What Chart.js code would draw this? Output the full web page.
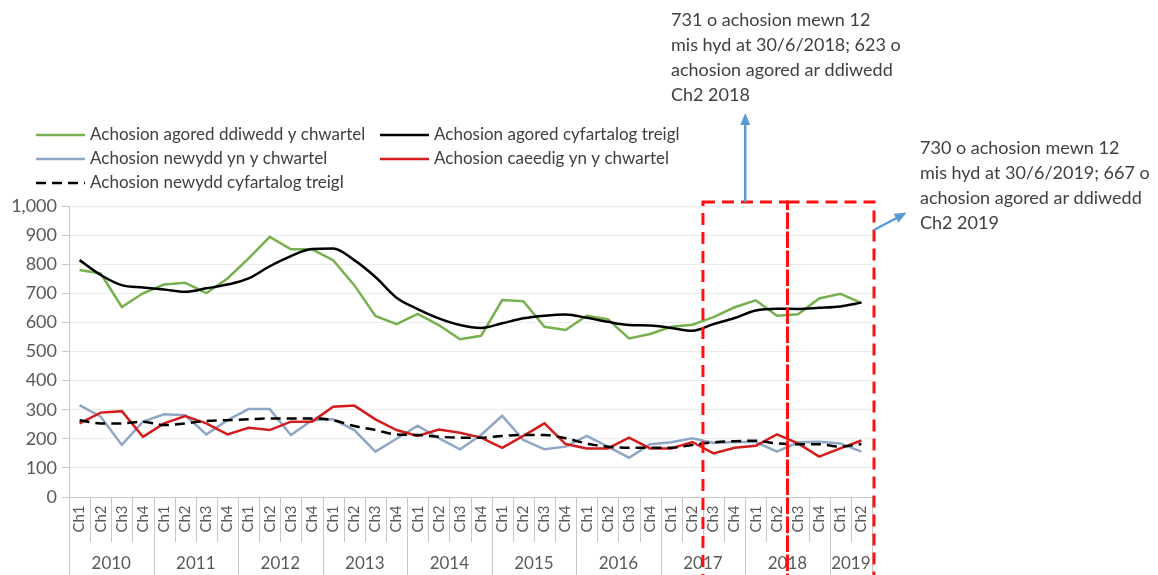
<!DOCTYPE html>
<html>
<head>
<meta charset="utf-8">
<script src="https://cdn.jsdelivr.net/npm/chart.js@4"></script>
<style>
  body { margin: 0; background: #fff; }
  #wrap { width: 1158px; height: 575px; }
</style>
</head>
<body>
<div id="wrap"><canvas id="chart" width="1158" height="575"></canvas></div>
<script>
// Data
const years = ["2010", "2011", "2012", "2013", "2014", "2015", "2016", "2017", "2018", "2019"];
const quartersPerYear = [4, 4, 4, 4, 4, 4, 4, 4, 4, 2];
const categories = quartersPerYear.flatMap((n) =>
  ["Ch1", "Ch2", "Ch3", "Ch4"].slice(0, n)
);

const openEnd = [
  780, 768, 653, 700, 730, 736, 701, 751, 820, 894, 851, 851, 814, 728, 622, 594,
  629, 591, 542, 554, 677, 673, 585, 574, 623, 611, 545, 560, 585, 592,
  618, 652, 676, 623, 628, 682, 698, 667,
];
const openAvg = [
  814, 763, 728, 720, 713, 705, 717, 730, 751, 793, 828, 852, 854, 814, 756, 685,
  646, 614, 591, 581, 597, 614, 623, 627, 616, 602, 591, 589, 581, 571,
  594, 615, 641, 647, 646, 650, 655, 668,
];
const newCases = [
  316, 276, 179, 259, 284, 281, 215, 264, 302, 302, 213, 264, 267, 230, 156, 200,
  245, 202, 164, 213, 279, 196, 164, 173, 210, 173, 135, 181, 188, 202,
  186, 189, 189, 156, 188, 190, 184, 156,
];
const closedCases = [
  253, 290, 295, 207, 253, 278, 253, 215, 238, 230, 259, 259, 310, 314, 267, 230,
  210, 232, 221, 204, 169, 210, 253, 182, 167, 167, 204, 167, 167, 189,
  150, 169, 176, 215, 184, 139, 167, 194,
];
const newAvg = [
  264, 253, 253, 259, 247, 253, 261, 264, 267, 270, 270, 270, 264, 244, 230, 215,
  213, 207, 204, 204, 210, 213, 213, 202, 184, 173, 169, 169, 169, 179,
  188, 192, 193, 184, 181, 181, 173, 182,
];

const yTickLabels = ["0", "100", "200", "300", "400", "500", "600", "700", "800", "900", "1,000"];

const seriesNames = [
  "Achosion agored ddiwedd y chwartel",
  "Achosion agored cyfartalog treigl",
  "Achosion newydd yn y chwartel",
  "Achosion caeedig yn y chwartel",
  "Achosion newydd cyfartalog treigl",
];

const note2018 = [
  "731 o achosion mewn 12",
  "mis hyd at 30/6/2018; 623 o",
  "achosion agored ar ddiwedd",
  "Ch2 2018",
];
const note2019 = [
  "730 o achosion mewn 12",
  "mis hyd at 30/6/2019; 667 o",
  "achosion agored ar ddiwedd",
  "Ch2 2019",
];

const FONT = "Lato, 'Open Sans', sans-serif";
const TEXT = "#404040";

// legend drawn by hand: two columns, like the Excel one
const legendLayout = [
  { ds: 0, x: 36, y: 135 },
  { ds: 1, x: 380, y: 135 },
  { ds: 2, x: 36, y: 159 },
  { ds: 3, x: 380, y: 159 },
  { ds: 4, x: 36, y: 183 },
];

const extrasPlugin = {
  id: "extras",
  afterDraw(chart) {
    const { ctx, chartArea, scales } = chart;
    const xs = scales.x;
    const ys = scales.y;
    const n = categories.length;
    const step = (chartArea.right - chartArea.left) / n;
    const edge = (i) => chartArea.left + i * step;

    ctx.save();

    // category ticks and rotated quarter labels
    ctx.strokeStyle = "#c8c8c8";
    ctx.lineWidth = 1;
    const yearStarts = [0];
    quartersPerYear.forEach((q, k) => yearStarts.push(yearStarts[k] + q));
    for (let i = 0; i <= n; i++) {
      const x = Math.round(edge(i)) + 0.5;
      const isYear = yearStarts.includes(i);
      ctx.beginPath();
      ctx.moveTo(x, chartArea.bottom);
      ctx.lineTo(x, isYear ? chart.height : chartArea.bottom + 45);
      ctx.stroke();
    }
    ctx.fillStyle = "#595959";
    ctx.font = "15px " + FONT;
    ctx.textAlign = "center";
    ctx.textBaseline = "middle";
    categories.forEach((c, i) => {
      ctx.save();
      ctx.translate(xs.getPixelForValue(i), chartArea.bottom + 22);
      ctx.rotate(-Math.PI / 2);
      ctx.fillText(c, 0, 0);
      ctx.restore();
    });
    ctx.font = "17px " + FONT;
    years.forEach((yr, k) => {
      const cx = (edge(yearStarts[k]) + edge(yearStarts[k + 1])) / 2;
      ctx.fillText(yr, cx, chartArea.bottom + 67);
    });

    // legend
    ctx.font = "17px " + FONT;
    ctx.textAlign = "left";
    legendLayout.forEach(({ ds, x, y }) => {
      const d = chart.data.datasets[ds];
      ctx.strokeStyle = d.borderColor;
      ctx.lineWidth = 2.5;
      ctx.setLineDash(d.borderDash || []);
      ctx.beginPath();
      ctx.moveTo(x, y);
      ctx.lineTo(x + 49, y);
      ctx.stroke();
      ctx.setLineDash([]);
      ctx.fillStyle = TEXT;
      ctx.fillText(d.label, x + 54, y);
    });

    // red dashed boxes around the last two twelve-month windows
    const top = ys.getPixelForValue(1000) - 4;
    const b0 = edge(30), b1 = edge(34), b2 = edge(38) + 2;
    ctx.strokeStyle = "#ff1010";
    ctx.lineWidth = 3;
    ctx.setLineDash([12, 7]);
    ctx.strokeRect(b0, top, b1 - b0, chart.height + 10 - top);
    ctx.strokeRect(b1, top, b2 - b1, chart.height + 10 - top);
    ctx.setLineDash([]);

    // arrows to the notes
    const arrow = (x1, y1, x2, y2) => {
      ctx.strokeStyle = "#5b9bd5";
      ctx.fillStyle = "#5b9bd5";
      ctx.lineWidth = 2.5;
      ctx.beginPath();
      ctx.moveTo(x1, y1);
      ctx.lineTo(x2, y2);
      ctx.stroke();
      const a = Math.atan2(y2 - y1, x2 - x1);
      ctx.beginPath();
      ctx.moveTo(x2 + 3 * Math.cos(a), y2 + 3 * Math.sin(a));
      ctx.lineTo(x2 - 9 * Math.cos(a) + 5 * Math.sin(a), y2 - 9 * Math.sin(a) - 5 * Math.cos(a));
      ctx.lineTo(x2 - 9 * Math.cos(a) - 5 * Math.sin(a), y2 - 9 * Math.sin(a) + 5 * Math.cos(a));
      ctx.closePath();
      ctx.fill();
    };
    const mid = (b0 + b1) / 2;
    arrow(mid, top, mid, 116);
    arrow(b2, top + 28, b2 + 30, top + 12);

    // notes
    ctx.fillStyle = TEXT;
    ctx.font = "18px " + FONT;
    ctx.textAlign = "left";
    note2018.forEach((t, i) => ctx.fillText(t, 671, 20 + i * 25));
    note2019.forEach((t, i) => ctx.fillText(t, 920, 148 + i * 25));

    ctx.restore();
  },
};

const ctx = document.getElementById("chart").getContext("2d");
new Chart(ctx, {
  type: "line",
  data: {
    labels: categories,
    datasets: [
      { label: seriesNames[0], data: openEnd, borderColor: "#77b04f", order: 5 },
      { label: seriesNames[1], data: openAvg, borderColor: "#000000", cubicInterpolationMode: "monotone", order: 4 },
      { label: seriesNames[2], data: newCases, borderColor: "#8fa6c4", order: 3 },
      { label: seriesNames[3], data: closedCases, borderColor: "#d41c1c", order: 2 },
      {
        label: seriesNames[4],
        data: newAvg,
        borderColor: "#000000",
        borderDash: [10, 6],
        cubicInterpolationMode: "monotone",
        order: 1,
      },
    ].map((d) => ({ borderWidth: 2.5, pointRadius: 0, fill: false, ...d })),
  },
  options: {
    responsive: false,
    animation: false,
    layout: { padding: { top: 206, bottom: 78, right: 286, left: 0 } },
    plugins: { legend: { display: false }, tooltip: { enabled: false } },
    scales: {
      x: {
        offset: true,
        grid: { display: false },
        border: { display: true, color: "#c8c8c8" },
        ticks: { display: false },
        afterFit: (s) => { s.height = 0; },
      },
      y: {
        min: 0,
        max: 1000,
        ticks: {
          stepSize: 100,
          padding: 5,
          color: "#595959",
          font: { family: FONT, size: 18 },
          callback: (v, i) => yTickLabels[i],
        },
        grid: { color: "#ececec", tickLength: 7, tickColor: "#c8c8c8" },
        border: { display: true, color: "#c8c8c8" },
        afterFit: (s) => { s.width = 69; },
      },
    },
  },
  plugins: [extrasPlugin],
});
</script>
</body>
</html>
